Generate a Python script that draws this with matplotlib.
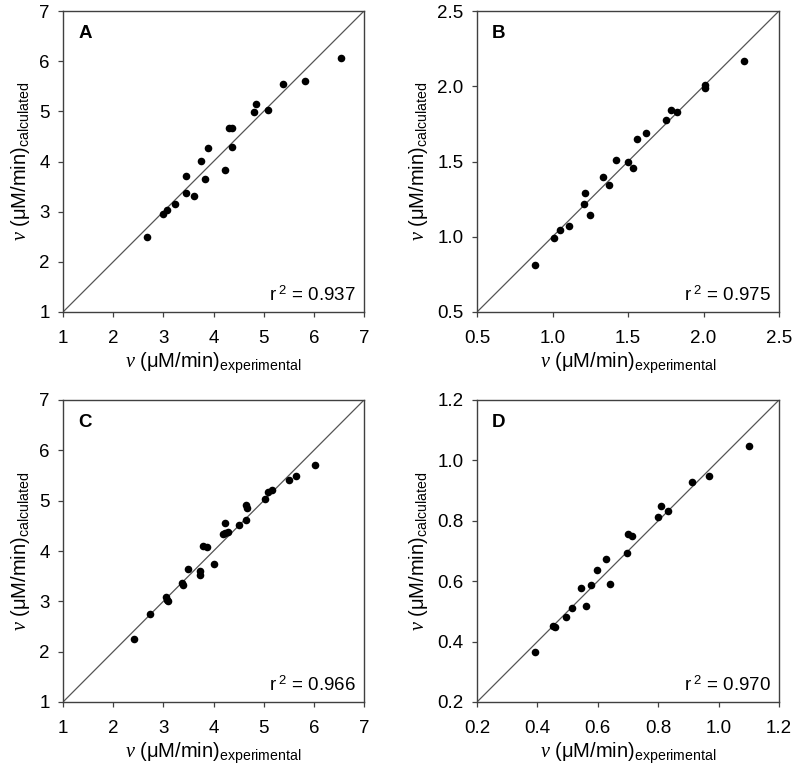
import matplotlib
matplotlib.use("Agg")
import matplotlib.pyplot as plt
import numpy as np

plt.rcParams['font.family'] = ['Liberation Sans', 'DejaVu Sans']
plt.rcParams['mathtext.fontset'] = 'custom'
plt.rcParams['mathtext.rm'] = 'Liberation Sans'
plt.rcParams['mathtext.it'] = 'Liberation Serif:italic'
plt.rcParams['mathtext.bf'] = 'Liberation Sans:bold'
plt.rcParams['mathtext.sf'] = 'Liberation Sans'

# Panel A
a_exp = [2.68, 2.99, 3.07, 3.23, 3.45, 3.45, 3.62, 3.76, 3.84, 3.90,
         4.22, 4.31, 4.36, 4.36, 4.81, 4.85, 5.09, 5.39, 5.82, 6.55]
a_calc = [2.50, 2.96, 3.03, 3.15, 3.71, 3.38, 3.32, 4.01, 3.65, 4.26,
          3.84, 4.66, 4.67, 4.29, 4.99, 5.15, 5.03, 5.54, 5.61, 6.07]
# Panel B
b_exp = [0.882, 1.012, 1.047, 1.111, 1.208, 1.214, 1.246, 1.334, 1.371, 1.420,
         1.499, 1.532, 1.559, 1.621, 1.753, 1.782, 1.826, 2.009, 2.011, 2.267]
b_calc = [0.812, 0.993, 1.042, 1.073, 1.215, 1.288, 1.146, 1.398, 1.347, 1.513,
          1.500, 1.456, 1.648, 1.690, 1.774, 1.845, 1.832, 2.007, 1.991, 2.170]
# Panel C
c_exp = [2.41, 2.73, 3.05, 3.07, 3.10, 3.37, 3.39, 3.49, 3.73, 3.73,
         3.79, 3.87, 4.01, 4.18, 4.22, 4.23, 4.28, 4.51, 4.64, 4.67,
         4.65, 5.02, 5.08, 5.16, 5.51, 5.65, 6.03]
c_calc = [2.26, 2.755, 3.09, 3.03, 3.00, 3.37, 3.32, 3.64, 3.61, 3.52,
          4.09, 4.08, 3.75, 4.34, 4.56, 4.36, 4.38, 4.52, 4.91, 4.85,
          4.62, 5.04, 5.17, 5.22, 5.42, 5.49, 5.71]
# Panel D
d_exp = [0.392, 0.453, 0.457, 0.496, 0.516, 0.543, 0.562, 0.579, 0.599, 0.628,
         0.642, 0.697, 0.701, 0.714, 0.798, 0.809, 0.833, 0.912, 0.967, 1.102]
d_calc = [0.366, 0.453, 0.448, 0.483, 0.512, 0.577, 0.517, 0.588, 0.636, 0.674,
          0.591, 0.692, 0.755, 0.751, 0.811, 0.850, 0.834, 0.927, 0.949, 1.049]

letters = ['A', 'B', 'C', 'D']
r2_texts = ['0.937', '0.975', '0.966', '0.970']
limits = [(1, 7), (0.5, 2.5), (1, 7), (0.2, 1.2)]
ticks = [[1, 2, 3, 4, 5, 6, 7],
         [0.5, 1.0, 1.5, 2.0, 2.5],
         [1, 2, 3, 4, 5, 6, 7],
         [0.2, 0.4, 0.6, 0.8, 1.0, 1.2]]
tick_fmt = ['{:.0f}', '{:.1f}', '{:.0f}', '{:.1f}']
xs = [a_exp, b_exp, c_exp, d_exp]
ys = [a_calc, b_calc, c_calc, d_calc]

W, H = 793, 768
fig = plt.figure(figsize=(W / 100, H / 100), dpi=100)

boxes = [(63, 11, 364, 312), (477, 11, 779, 312),
         (63, 400, 364, 702), (477, 400, 779, 702)]

spine_col = '#404040'
for i in range(4):
    x0, y0, x1, y1 = boxes[i]
    ax = fig.add_axes([x0 / W, 1 - y1 / H, (x1 - x0) / W, (y1 - y0) / H])
    lo, hi = limits[i]
    ax.plot([lo, hi], [lo, hi], color='#555555', lw=0.9, zorder=1)
    ax.scatter(xs[i], ys[i], s=30, color='black', zorder=3, linewidths=0)
    ax.set_xlim(lo, hi)
    ax.set_ylim(lo, hi)
    ax.set_xticks(ticks[i])
    ax.set_yticks(ticks[i])
    lbls = [tick_fmt[i].format(t) for t in ticks[i]]
    ax.set_xticklabels(lbls)
    ax.set_yticklabels(lbls)
    ax.tick_params(direction='out', length=3.8, width=0.9, color=spine_col,
                   labelsize=13.5)
    ax.tick_params(axis='x', pad=9)
    ax.tick_params(axis='y', pad=5.8)
    for sp in ax.spines.values():
        sp.set_color(spine_col)
        sp.set_linewidth(1.0)
    ax.set_xlabel(r'$\nu$ ($\mathrm{\mu}$M/min)$_{\mathrm{experimental}}$',
                  fontsize=14.5, labelpad=3)
    ax.set_ylabel(r'$\nu$ ($\mathrm{\mu}$M/min)$_{\mathrm{calculated}}$',
                  fontsize=14.5, labelpad=5)
    ax.text(0.05, 0.955, letters[i], transform=ax.transAxes, fontsize=13.5,
            fontweight='bold', ha='left', va='top')
    ax.text(0.973, 0.035, r'r$^{\ 2}$ = ' + r2_texts[i], transform=ax.transAxes,
            fontsize=13.5, ha='right', va='baseline')

fig.savefig('out.png', dpi=100)
